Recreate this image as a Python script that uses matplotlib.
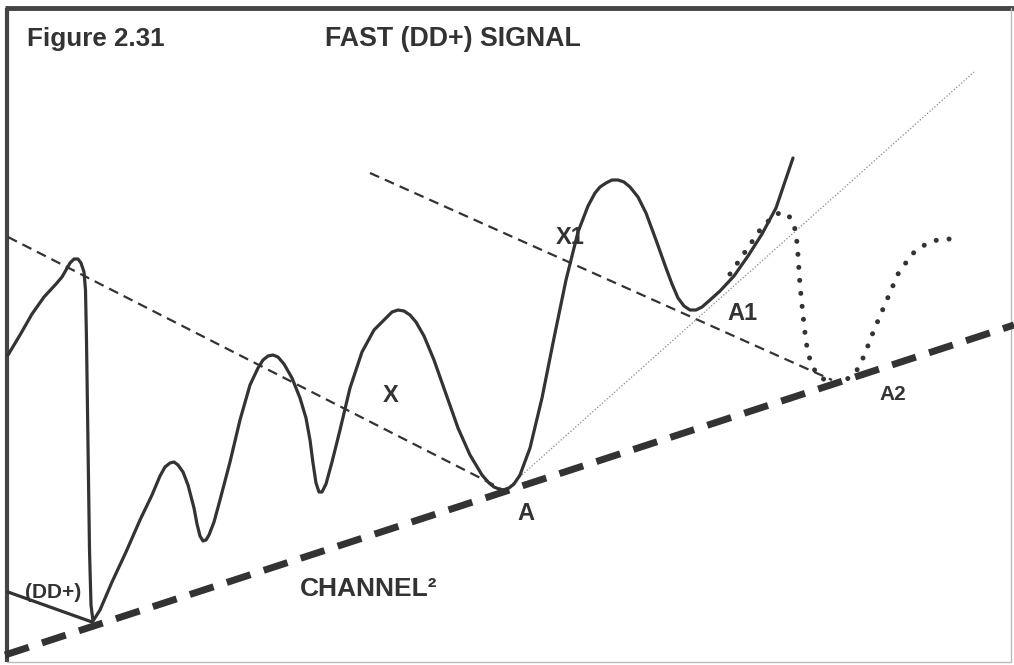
import matplotlib
matplotlib.use("Agg")
import matplotlib.pyplot as plt
from matplotlib import font_manager

# picture coordinates (pixels, y grows downwards)
price_x = [8, 20, 32, 44, 56, 62, 66, 70, 74, 78, 81, 84, 85.5, 86.5, 87.5, 88.5, 89.5, 91, 93,
           100, 112, 126, 140, 152, 160, 165, 170, 174, 178, 183, 188, 194, 197, 200, 203, 206, 209, 214,
           220, 230, 240, 250, 258, 263, 268, 273, 278, 284, 292, 300, 306, 310, 313, 316, 319, 322, 326, 332,
           340, 350, 362, 374, 386, 392, 398, 404, 410, 416, 424, 434, 446, 458, 470, 482, 489, 494, 499, 504, 509, 514,
           520, 530, 542, 554, 566, 578, 588, 595, 600, 606, 612, 618, 624, 630, 638, 646, 656, 666, 672, 678, 684, 690,
           696, 702, 710, 720, 734, 748, 762, 776, 793]
price_y = [355, 335, 314, 297, 284, 277, 270, 263, 259, 259, 263, 272, 290, 340, 410, 480, 550, 605, 621,
           610, 582, 552, 520, 495, 476, 467, 463, 462, 465, 472, 485, 508, 524, 536, 541, 540, 535, 522,
           500, 462, 420, 385, 368, 360, 356, 355, 357, 364, 378, 398, 418, 440, 463, 483, 492, 492, 484, 462,
           430, 388, 352, 330, 318, 312, 310, 311, 315, 322, 336, 360, 394, 428, 455, 475, 483, 487, 489, 490, 488, 484,
           475, 448, 398, 338, 280, 232, 206, 193, 187, 183, 180, 180, 182, 187, 197, 213, 240, 268, 284, 298, 306, 310,
           310, 307, 300, 291, 276, 256, 234, 208, 158]

dd_x = [8, 92]
dd_y = [592, 622]

channel_x = [5, 1014]
channel_y = [655, 325]

trend1_x = [8, 500]
trend1_y = [237, 488]
trend2_x = [370, 832]
trend2_y = [173, 380]

fast_x = [505, 974]
fast_y = [490, 72]

alt_x = [730, 745, 760, 774, 783, 791, 796, 798, 800, 803, 806, 810, 816, 826, 836, 846,
         856, 864, 874, 886, 898, 912, 926, 940, 953]
alt_y = [274, 252, 230, 215, 212, 218, 232, 255, 285, 315, 342, 360, 373, 381, 383, 380,
         372, 356, 330, 302, 274, 254, 244, 239, 239]

labels = ["Figure 2.31", "FAST (DD+) SIGNAL", "X1", "X", "A1", "A2", "A", "(DD+)", "CHANNEL²"]
label_x = [27, 325, 556, 383, 727, 879, 517, 25, 300]
label_y = [39, 39, 237, 395, 313, 394, 513, 592, 589]
label_size = [18.7, 19.3, 17, 17, 17, 15, 17, 15, 19]

ink = "#333333"

names = {f.name for f in font_manager.fontManager.ttflist}
fam = "Liberation Sans Narrow" if "Liberation Sans Narrow" in names else "Liberation Sans"
plt.rcParams["font.family"] = [fam, "DejaVu Sans"]

fig = plt.figure(figsize=(10.14, 6.65), dpi=100)
ax = fig.add_axes([0, 0, 1, 1])
ax.set_xlim(0, 1014)
ax.set_ylim(665, 0)
ax.axis("off")

# frame
ax.plot([5, 1014], [8, 8], color="#444444", lw=3.5, solid_capstyle="butt")
ax.plot([7, 7], [8, 662], color="#444444", lw=3, solid_capstyle="butt")
ax.plot([7, 1011, 1011], [662, 662, 8], color="#bbbbbb", lw=1)

# channel and trend lines
ax.plot(channel_x, channel_y, color=ink, lw=5, linestyle=(0, (3.6, 2.0)), dash_capstyle="butt")
ax.plot(trend1_x, trend1_y, color=ink, lw=1.6, linestyle=(0, (4.5, 2.8)))
ax.plot(trend2_x, trend2_y, color=ink, lw=1.6, linestyle=(0, (4.5, 2.8)))
ax.plot(fast_x, fast_y, color="#888888", lw=0.9, linestyle=(0, (1, 1.6)))

# price path
ax.plot(price_x, price_y, color=ink, lw=2.3, solid_joinstyle="round", solid_capstyle="round")
ax.plot(dd_x, dd_y, color=ink, lw=2.3, solid_capstyle="round")
ax.plot(alt_x, alt_y, color=ink, lw=3.6, linestyle=(0, (0.01, 2.6)), dash_capstyle="round")

for t, x, y, s in zip(labels, label_x, label_y, label_size):
    ax.text(x, y, t, fontsize=s, fontweight="bold", color=ink, ha="left", va="center")

fig.savefig("out.png", dpi=100)
